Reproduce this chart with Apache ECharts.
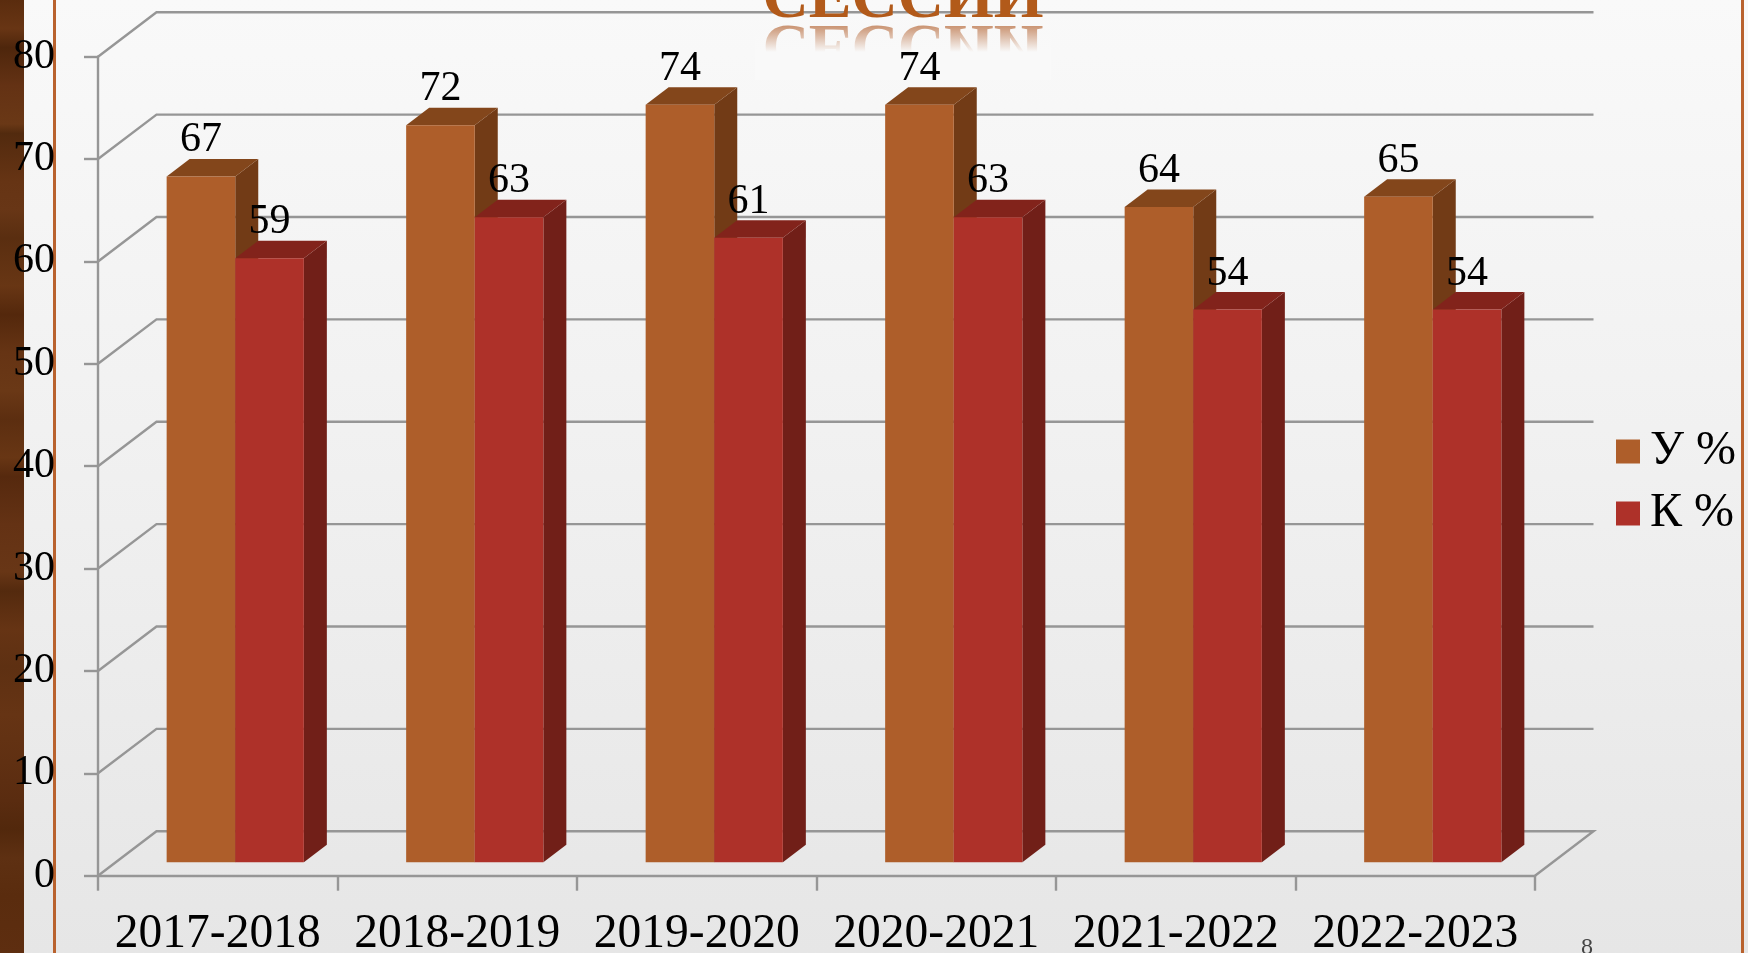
<!DOCTYPE html>
<html>
<head>
<meta charset="utf-8">
<style>html,body{margin:0;padding:0;width:1748px;height:953px;overflow:hidden;background:#eee}#c{width:1748px;height:953px}</style>
<script src="https://cdn.jsdelivr.net/npm/echarts@6/dist/echarts.min.js"></script>
</head>
<body>
<div id="c"></div>
<script>
const categories = ['2017-2018','2018-2019','2019-2020','2020-2021','2021-2022','2022-2023'];
const uName = 'У %';
const kName = 'К %';
const uValues = [67,72,74,74,64,65];
const kValues = [59,63,61,63,54,54];
const yTicks = [0,10,20,30,40,50,60,70,80];
const slideTitle = 'СЕССИИ';
const pageNumber = '8';

const FONT = '"Liberation Serif", serif';
const GRID_COLOR = '#969696';
const U = {front:'#AE5E2A', top:'#83461B', side:'#723B16'};
const K = {front:'#AE3129', top:'#82231B', side:'#711F18'};

// oblique projection of the 3D box
const WALL_DX = 58.5, WALL_DY = 44.5;   // front plane -> back wall
const BAR_DX = 17.5, BAR_DY = 13.4;     // front plane -> bar front face
const DEPTH_DX = 23, DEPTH_DY = 17.5;   // bar depth
const BAR_W = 68.6;

const chart = echarts.init(document.getElementById('c'), null, {renderer:'canvas'});

function wallItem(params, api){
  const cs = params.coordSys;
  const v = api.value(1);
  const p = api.coord([0, v]);
  const y = p[1], l = cs.x, r = cs.x + cs.width;
  const pts = [[l, y],[l+WALL_DX, y-WALL_DY],[r+WALL_DX, y-WALL_DY]];
  if (v === yTicks[0]) pts.push([r, y]);
  return {type:'polyline', shape:{points:pts}, silent:true,
    style:{fill:null, stroke:GRID_COLOR, lineWidth:2.4}};
}

function barItem(side, colors){
  return function(params, api){
    const x0 = api.coord([api.value(0), 0]);
    const x1 = api.coord([api.value(0), api.value(1)]);
    const cx = x0[0] + BAR_DX;
    const left = side < 0 ? cx - BAR_W : cx;
    const right = left + BAR_W;
    const bottom = x0[1] - BAR_DY;
    const top = x1[1] - BAR_DY;
    return {type:'group', children:[
      {type:'polygon', shape:{points:[[right,bottom],[right+DEPTH_DX,bottom-DEPTH_DY],[right+DEPTH_DX,top-DEPTH_DY],[right,top]]}, style:{fill:colors.side}},
      {type:'polygon', shape:{points:[[left,top],[left+DEPTH_DX,top-DEPTH_DY],[right+DEPTH_DX,top-DEPTH_DY],[right,top]]}, style:{fill:colors.top}},
      {type:'rect', shape:{x:left,y:top,width:BAR_W,height:bottom-top}, style:{fill:colors.front}},
      {type:'text', z2:50, style:{text:String(api.value(1)), x:(left+right)/2, y:top-36, align:'center', verticalAlign:'middle',
        font:'42px '+FONT, fill:'#000'}}
    ]};
  };
}

const woodStops = [
 [0,'#5a2c0e'],[.03,'#683514'],[.05,'#4e260c'],[.09,'#643214'],[.13,'#6a3816'],[.14,'#522a0e'],[.19,'#663414'],[.22,'#683616'],
 [.25,'#5a2e10'],[.3,'#683614'],[.33,'#54280c'],[.37,'#663414'],[.41,'#6a3816'],[.44,'#5c2e10'],[.48,'#683614'],[.5,'#56290e'],
 [.55,'#643214'],[.6,'#683616'],[.62,'#542a0e'],[.66,'#663414'],[.7,'#5e3012'],[.75,'#663414'],[.8,'#603012'],[.84,'#5a2c10'],
 [.87,'#52280c'],[.9,'#5e3012'],[.94,'#5a2c0e'],[1,'#5e2e10']
].map(s=>({offset:s[0],color:s[1]}));

const BG_TOP = '#F9F9F9';

chart.setOption({
  animation:false,
  backgroundColor:{type:'linear',x:0,y:0,x2:0,y2:1,colorStops:[{offset:0,color:BG_TOP},{offset:.45,color:'#F1F1F1'},{offset:1,color:'#E6E6E6'}]},
  textStyle:{fontFamily:FONT},
  grid:{left:98,top:56.7,width:1437,height:819,containLabel:false,outerBoundsMode:'none'},
  legend:{
    left:1616, top:427.5, orient:'vertical', itemWidth:24, itemHeight:24, itemGap:14, icon:'rect',
    data:[uName,kName], textStyle:{fontFamily:FONT,fontSize:48,color:'#000',padding:[5,0,0,5]}, padding:0, selectedMode:false
  },
  xAxis:{
    type:'category', data:categories, boundaryGap:true,
    axisLine:{show:true,lineStyle:{color:GRID_COLOR,width:2.4}},
    axisTick:{show:true,length:15,alignWithLabel:false,lineStyle:{color:GRID_COLOR,width:2.4}},
    axisLabel:{color:'#000',fontFamily:FONT,fontSize:47.5,margin:35,interval:0},
    splitLine:{show:false}
  },
  yAxis:{
    type:'value', min:0, max:80, interval:10,
    axisLine:{show:true,lineStyle:{color:GRID_COLOR,width:2.4}},
    axisTick:{show:true,length:14,lineStyle:{color:GRID_COLOR,width:2.4}},
    axisLabel:{color:'#000',fontFamily:FONT,fontSize:42,margin:43,padding:[2,0,0,0]},
    splitLine:{show:false}
  },
  graphic:{elements:[
    {type:'rect',silent:true,z:-10,shape:{x:0,y:0,width:24,height:953},style:{fill:{type:'linear',x:0,y:0,x2:0,y2:1,colorStops:woodStops}}},
    {type:'rect',silent:true,z:-10,shape:{x:53,y:0,width:3,height:953},style:{fill:'#B9622E'}},
    {type:'rect',silent:true,z:-10,shape:{x:1741,y:0,width:3,height:953},style:{fill:'#B9622E'}},
    {type:'text',silent:true,z:20,style:{text:slideTitle,x:903,y:0.9,align:'center',verticalAlign:'middle',
      font:'bold 64px '+FONT, fill:'#B25A1A'}},
    {type:'text',silent:true,z:1,scaleY:-1,originX:903,originY:24,
      style:{text:slideTitle,x:903,y:5.4,align:'center',verticalAlign:'middle',
      font:'bold 64px '+FONT, fill:'rgba(180,100,50,.85)'}},
    {type:'rect',silent:true,z:2,shape:{x:755,y:24,width:296,height:56},
      style:{fill:{type:'linear',x:0,y:0,x2:0,y2:1,colorStops:[{offset:0,color:'rgba(249,249,249,.15)'},{offset:.5,color:'rgba(249,249,249,1)'},{offset:1,color:'rgba(249,249,249,1)'}]}}},
    {type:'text',silent:true,z:20,style:{text:pageNumber,x:1587,y:948,align:'center',verticalAlign:'middle',font:'24px '+FONT,fill:'#444'}}
  ]},
  series:[
    {type:'custom',name:'walls',coordinateSystem:'cartesian2d',silent:true,z:1,clip:false,
      data:yTicks.map(v=>[0,v]),encode:{x:0,y:1},renderItem:wallItem},
    {type:'custom',name:uName,coordinateSystem:'cartesian2d',z:3,clip:false,silent:true,itemStyle:{color:U.front},
      data:uValues.map((v,i)=>[i,v]),encode:{x:0,y:1},renderItem:barItem(-1,U)},
    {type:'custom',name:kName,coordinateSystem:'cartesian2d',z:4,clip:false,silent:true,itemStyle:{color:K.front},
      data:kValues.map((v,i)=>[i,v]),encode:{x:0,y:1},renderItem:barItem(1,K)}
  ]
});
</script>
</body>
</html>
